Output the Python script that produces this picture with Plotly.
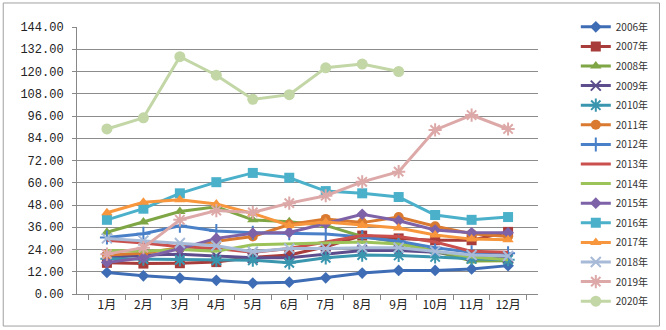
import plotly.graph_objects as go

months = ["1月", "2月", "3月", "4月", "5月", "6月", "7月", "8月", "9月", "10月", "11月", "12月"]
years = ["2006年", "2007年", "2008年", "2009年", "2010年", "2011年", "2012年", "2013年",
         "2014年", "2015年", "2016年", "2017年", "2018年", "2019年", "2020年"]

v2006 = [11.6, 9.8, 8.6, 7.4, 5.9, 6.4, 8.7, 11.3, 12.7, 12.7, 13.5, 15.3]
v2007 = [16.8, 16.4, 16.6, 17.2, 19.8, 21.0, 25.5, 31.5, 30.0, 29.0, 29.0, 33.5]
v2008 = [33.3, 38.8, 44.5, 47.0, 40.0, 39.0, 37.0, 31.0, 28.0, 23.0, 17.8, 18.0]
v2009 = [19.5, 21.0, 21.5, 20.5, 19.5, 19.5, 21.5, 23.5, 23.5, 22.5, 20.5, 19.5]
v2010 = [19.0, 18.8, 18.4, 18.2, 18.2, 16.8, 19.5, 21.0, 20.8, 20.0, 19.0, 18.5]
v2011 = [21.0, 22.0, 25.0, 28.5, 31.0, 37.5, 40.5, 38.5, 41.5, 36.5, 32.5, 31.0]
v2012 = [30.5, 32.5, 36.8, 34.0, 33.0, 32.8, 32.3, 30.8, 28.5, 25.0, 22.5, 22.0]
v2013 = [29.0, 27.5, 25.5, 24.5, 22.5, 24.5, 28.0, 31.5, 31.0, 28.0, 23.0, 22.5]
v2014 = [23.5, 23.0, 24.0, 23.0, 26.5, 27.0, 27.5, 28.0, 27.0, 23.0, 20.0, 18.5]
v2015 = [17.0, 19.5, 24.5, 30.0, 32.8, 33.2, 38.0, 43.0, 39.5, 34.5, 33.0, 33.0]
v2016 = [40.0, 46.0, 54.3, 60.3, 65.3, 62.7, 55.5, 54.3, 52.3, 42.6, 40.0, 41.5]
v2017 = [43.8, 49.5, 50.8, 48.5, 43.5, 37.0, 38.8, 37.0, 35.6, 31.8, 29.6, 29.2]
v2018 = [30.0, 28.8, 27.5, 26.0, 22.8, 24.5, 24.5, 25.0, 25.0, 23.0, 21.0, 20.5]
v2019 = [21.5, 25.0, 40.0, 45.0, 44.0, 49.0, 53.0, 60.5, 66.0, 88.5, 96.5, 89.0]
v2020 = [89.0, 95.0, 128.0, 118.0, 105.0, 107.5, 122.0, 124.0, 120.0, None, None, None]

y_ticks = [0, 12, 24, 36, 48, 60, 72, 84, 96, 108, 120, 132, 144]

series = [v2006, v2007, v2008, v2009, v2010, v2011, v2012, v2013,
          v2014, v2015, v2016, v2017, v2018, v2019, v2020]
colors = ["#3F6DB5", "#A83C3A", "#7FA645", "#5E4D8C", "#3A96AE", "#D97A30", "#4A80C8", "#C9504D",
          "#9BC35A", "#7E62A8", "#4BB0CA", "#F7963C", "#A7BAD8", "#DDA9A8", "#C2D6A6"]
symbols = ["diamond", "square", "triangle-up", "x-thin-open", "asterisk-open", "circle", "cross-thin-open", None,
           None, "diamond", "square", "triangle-up", "x-thin-open", "asterisk-open", "circle"]
sizes = [9, 10, 10, 10, 11, 10, 10, 0, 0, 9, 10, 10, 10, 11, 11]

fig = go.Figure()
for name, vals, c, s, sz in zip(years, series, colors, symbols, sizes):
    if s is None:
        mode = "lines"
        marker = dict()
    else:
        mode = "lines+markers"
        marker = dict(symbol=s, size=sz, color=c, line=dict(color=c, width=2 if "open" in s else 0))
    fig.add_trace(go.Scatter(x=months, y=vals, name=name, mode=mode, legendgroup=name,
                             line=dict(color=c, width=3), marker=marker,
                             connectgaps=False))

fig.update_layout(
    width=666, height=330,
    margin=dict(l=77, r=126, t=27, b=36),
    paper_bgcolor="white", plot_bgcolor="white",
    showlegend=True,
    legend=dict(x=1.082, xanchor="left", y=1.055, yanchor="top",
                font=dict(family="Noto Sans CJK SC", size=10, color="#333333"),
                tracegroupgap=0.6, bgcolor="rgba(0,0,0,0)", itemwidth=30,
                maxheight=400),
    xaxis=dict(type="category", tickson="boundaries", ticks="outside", ticklen=5,
               tickcolor="#888888", showline=True, linecolor="#888888", linewidth=1,
               showgrid=False, tickangle=0,
               tickfont=dict(family="Noto Sans CJK SC", size=12, color="#222222")),
    yaxis=dict(range=[0, 144], tickvals=y_ticks, tickformat=".2f", ticks="outside", ticklen=4,
               tickcolor="#888888", showline=True, linecolor="#888888", linewidth=1,
               showgrid=True, gridcolor="#8C8C8C", gridwidth=1, zeroline=False,
               ticklabelstandoff=6,
               tickfont=dict(family="Liberation Mono", size=12, color="#222222")),
    shapes=[dict(type="rect", xref="paper", yref="paper",
                 x0=-0.16, x1=1.2635, y0=-0.12, y1=1.09,
                 line=dict(color="#A0A0A0", width=1), fillcolor="rgba(0,0,0,0)", layer="below")],
)

fig.write_html("out.html")
